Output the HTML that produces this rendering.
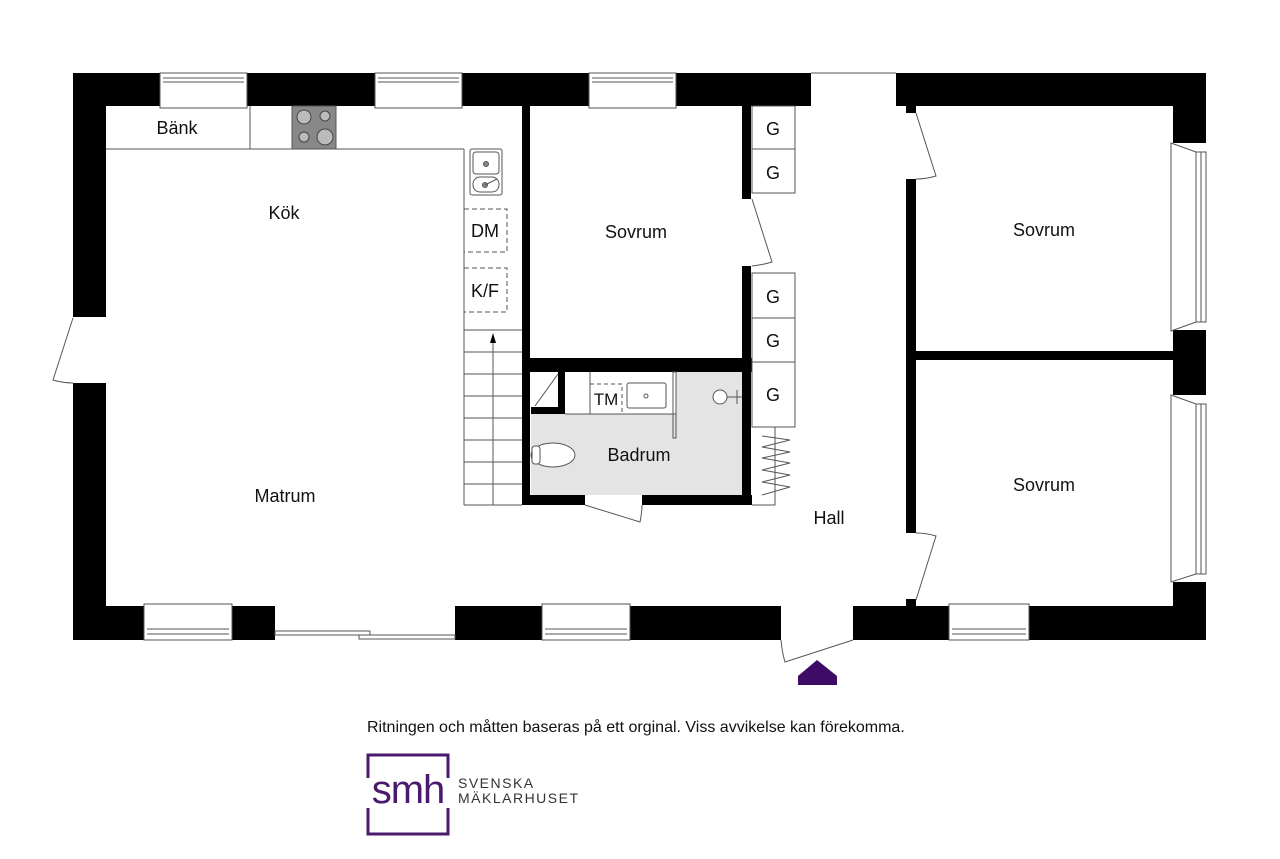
<!DOCTYPE html>
<html><head><meta charset="utf-8"><style>
html,body{margin:0;padding:0;background:#fff;}
svg{display:block;font-family:"Liberation Sans",Arial,sans-serif;}
</style></head><body>
<svg width="1280" height="859" viewBox="0 0 1280 859" xmlns="http://www.w3.org/2000/svg">
<!-- badrum fill -->
<rect x="531" y="372" width="211" height="123" fill="#e4e4e4"/>
<rect x="531" y="372" width="145" height="42" fill="#fff"/>
<g fill="#000">
<!-- top wall -->
<rect x="73" y="73" width="87" height="33"/>
<rect x="247" y="73" width="128" height="33"/>
<rect x="462" y="73" width="127" height="33"/>
<rect x="676" y="73" width="135" height="33"/>
<rect x="896" y="73" width="310" height="33"/>
<!-- left wall -->
<rect x="73" y="73" width="33" height="244"/>
<rect x="73" y="383" width="33" height="257"/>
<!-- bottom wall -->
<rect x="73" y="606" width="71" height="34"/>
<rect x="232" y="606" width="43" height="34"/>
<rect x="455" y="606" width="87" height="34"/>
<rect x="630" y="606" width="151" height="34"/>
<rect x="853" y="606" width="96" height="34"/>
<rect x="1029" y="606" width="177" height="34"/>
<!-- right wall -->
<rect x="1173" y="73" width="33" height="70"/>
<rect x="1173" y="330" width="33" height="65"/>
<rect x="1173" y="582" width="33" height="58"/>
<!-- interior -->
<rect x="522" y="106" width="8" height="399"/>
<rect x="522" y="358" width="230" height="14"/>
<rect x="742" y="106" width="9" height="93"/>
<rect x="742" y="266" width="9" height="239"/>
<rect x="522" y="495" width="63" height="10"/>
<rect x="642" y="495" width="110" height="10"/>
<rect x="558" y="372" width="7" height="42"/>
<rect x="531" y="407" width="34" height="7"/>
<rect x="906" y="106" width="10" height="7"/>
<rect x="906" y="179" width="10" height="354"/>
<rect x="906" y="599" width="10" height="7"/>
<rect x="906" y="351" width="267" height="9"/>
</g>
<g fill="none" stroke="#555" stroke-width="1">
<!-- windows top -->
<rect x="160" y="73" width="87" height="35" fill="#fff"/><line x1="163" y1="78" x2="244" y2="78"/><line x1="163" y1="82" x2="244" y2="82"/>
<rect x="375" y="73" width="87" height="35" fill="#fff"/><line x1="378" y1="78" x2="459" y2="78"/><line x1="378" y1="82" x2="459" y2="82"/>
<rect x="589" y="73" width="87" height="35" fill="#fff"/><line x1="592" y1="78" x2="673" y2="78"/><line x1="592" y1="82" x2="673" y2="82"/>
<line x1="811" y1="73" x2="896" y2="73"/>
<!-- windows bottom -->
<rect x="144" y="604" width="88" height="36" fill="#fff"/><line x1="147" y1="629" x2="229" y2="629"/><line x1="147" y1="634" x2="229" y2="634"/>
<rect x="542" y="604" width="88" height="36" fill="#fff"/><line x1="545" y1="629" x2="627" y2="629"/><line x1="545" y1="634" x2="627" y2="634"/>
<rect x="949" y="604" width="80" height="36" fill="#fff"/><line x1="952" y1="629" x2="1026" y2="629"/><line x1="952" y1="634" x2="1026" y2="634"/>
<!-- sliding door -->
<rect x="275" y="631" width="95" height="4"/>
<rect x="359" y="635" width="96" height="4"/>
<!-- right windows -->
<polygon points="1171,143 1196,152 1206,152 1206,322 1196,322 1171,331" fill="#fff"/>
<rect x="1196" y="152" width="10" height="170"/><line x1="1201" y1="152" x2="1201" y2="322"/>
<polygon points="1171,395 1196,404 1206,404 1206,574 1196,574 1171,582" fill="#fff"/>
<rect x="1196" y="404" width="10" height="170"/><line x1="1201" y1="404" x2="1201" y2="574"/>
<!-- doors -->
<path d="M73,318 L53,380 Q63,383 73,383"/>
<path d="M752,199 L772,262 Q762,265 752,266"/>
<path d="M916,113 L936,176 Q926,179 916,179"/>
<path d="M916,600 L936,536 Q926,533 916,533"/>
<path d="M585,505 L640,522 Q642,512 642,505"/>
<path d="M853,640 L785,662 Q782,652 781,640"/>
<!-- kitchen -->
<line x1="106" y1="149" x2="464" y2="149"/>
<line x1="250" y1="106" x2="250" y2="149"/>
<line x1="464" y1="149" x2="464" y2="505"/>
<line x1="464" y1="505" x2="522" y2="505"/>
<!-- stairs -->
<line x1="464" y1="330" x2="522" y2="330"/><line x1="464" y1="352" x2="522" y2="352"/><line x1="464" y1="374" x2="522" y2="374"/><line x1="464" y1="396" x2="522" y2="396"/><line x1="464" y1="418" x2="522" y2="418"/><line x1="464" y1="440" x2="522" y2="440"/><line x1="464" y1="462" x2="522" y2="462"/><line x1="464" y1="484" x2="522" y2="484"/>
<line x1="493" y1="505" x2="493" y2="340"/>
<!-- sink -->
<rect x="470" y="149" width="32" height="46" rx="2"/><rect x="473" y="152" width="26" height="22" rx="3"/><rect x="473" y="177" width="26" height="15" rx="7"/>
<circle cx="486" cy="164" r="2.5" fill="#888"/><circle cx="485" cy="185" r="2.5" fill="#888"/><line x1="485" y1="185" x2="497" y2="179"/>
<!-- dashed appliances -->
<rect x="464" y="209" width="43" height="43" stroke-dasharray="5,3"/>
<rect x="464" y="268" width="43" height="44" stroke-dasharray="5,3"/>
<!-- wardrobes -->
<rect x="752" y="106" width="43" height="43"/><rect x="752" y="149" width="43" height="44"/>
<rect x="752" y="273" width="43" height="45"/><rect x="752" y="318" width="43" height="44"/><rect x="752" y="362" width="43" height="65"/>
<polyline points="752,427 775,427 775,505 752,505"/>
<polyline points="762,436 790,440 762,447 790,452 762,458 790,463 762,470 790,475 762,482 790,487 762,495"/>
<!-- badrum fixtures -->
<line x1="535" y1="406" x2="558" y2="374"/>
<line x1="590" y1="372" x2="590" y2="414"/>
<line x1="565" y1="414" x2="676" y2="414"/>
<rect x="590" y="384" width="32" height="30" stroke-dasharray="4,3"/>
<rect x="627" y="383" width="39" height="25" rx="2"/><circle cx="646" cy="396" r="2"/>
<rect x="673" y="372" width="3" height="66"/>
<ellipse cx="553" cy="455" rx="22" ry="12" fill="#fff"/><rect x="532" y="446" width="8" height="18" rx="3" fill="#fff"/>
<circle cx="720" cy="397" r="7" fill="#fff"/><line x1="727" y1="397" x2="742" y2="397"/><line x1="737" y1="390" x2="737" y2="404"/>
</g>
<!-- stove -->
<rect x="292" y="106" width="44" height="43" fill="#888" stroke="#555"/>
<g fill="#bbb" stroke="#444" stroke-width="1">
<circle cx="304" cy="117" r="7"/><circle cx="325" cy="116" r="5"/><circle cx="304" cy="137" r="5"/><circle cx="325" cy="137" r="8"/>
</g>
<polygon points="493,333 490,343 496,343" fill="#000"/>
<!-- entrance arrow -->
<polygon points="817,660 798,676 798,685 837,685 837,676" fill="#3e0b66"/>
<!-- labels -->
<g font-size="18" fill="#111" text-anchor="middle">
<text x="177" y="134">Bänk</text>
<text x="284" y="219">Kök</text>
<text x="485" y="237">DM</text>
<text x="485" y="297">K/F</text>
<text x="636" y="238">Sovrum</text>
<text x="773" y="135">G</text><text x="773" y="179">G</text>
<text x="773" y="303">G</text><text x="773" y="347">G</text><text x="773" y="401">G</text>
<text x="639" y="461">Badrum</text>
<text x="606" y="405" font-size="17">TM</text>
<text x="285" y="502">Matrum</text>
<text x="829" y="524">Hall</text>
<text x="1044" y="236">Sovrum</text>
<text x="1044" y="491">Sovrum</text>
</g>
<text x="367" y="732" font-size="16" fill="#111">Ritningen och måtten baseras på ett orginal. Viss avvikelse kan förekomma.</text>
<!-- logo -->
<polyline points="368,778 368,755 448,755 448,778" fill="none" stroke="#4a1a6e" stroke-width="3"/>
<polyline points="368,808 368,834 448,834 448,808" fill="none" stroke="#4a1a6e" stroke-width="3"/>
<text x="408" y="803" font-size="40" fill="#4a1a6e" text-anchor="middle" letter-spacing="-1">smh</text>
<text x="458" y="788" font-size="14" fill="#333" letter-spacing="1.5">SVENSKA</text>
<text x="458" y="803" font-size="14" fill="#333" letter-spacing="1.5">MÄKLARHUSET</text>
</svg>
</body></html>
